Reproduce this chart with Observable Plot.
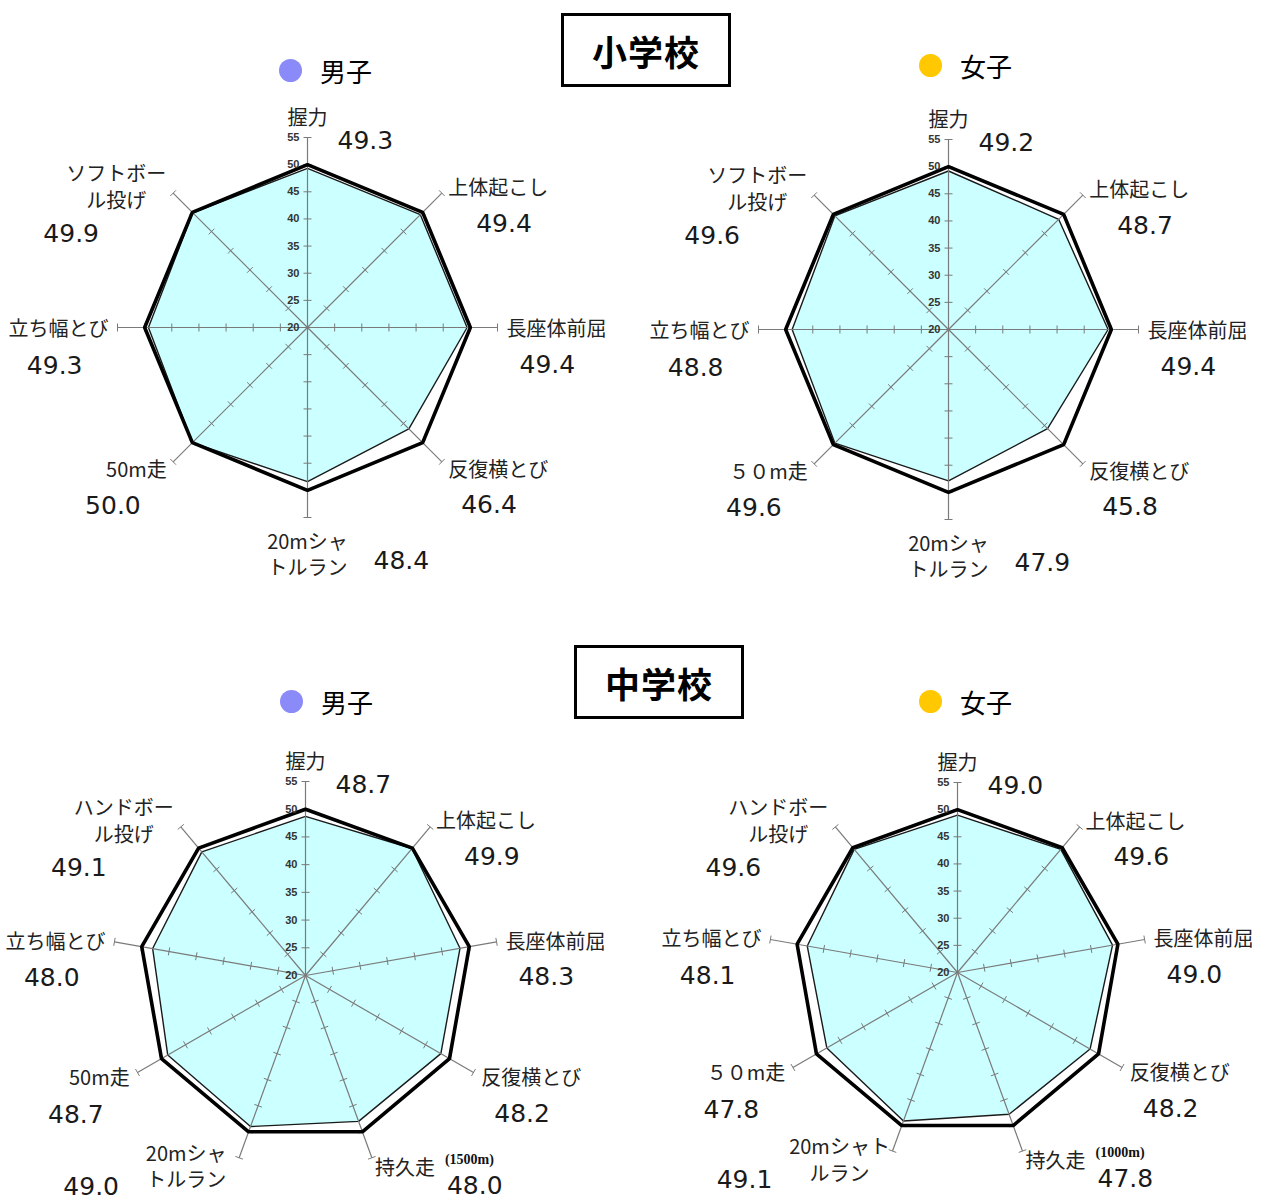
<!DOCTYPE html>
<html><head><meta charset="utf-8">
<script src="https://cdn.jsdelivr.net/npm/d3@7"></script>
<script src="https://cdn.jsdelivr.net/npm/@observablehq/plot@0.6"></script>
<style>
body{margin:0;background:#fff;font-family:"Noto Sans CJK JP",sans-serif;}
#page{position:relative;width:1263px;height:1202px;overflow:hidden;background:#fff;}
#page svg{position:absolute;left:0;top:0;}
.title{position:absolute;width:164px;height:68px;border:3px solid #000;display:flex;align-items:center;justify-content:center;font-size:35px;font-weight:bold;background:#fff;z-index:2;letter-spacing:1px;}
.legend{position:absolute;display:flex;align-items:center;font-size:26px;z-index:2;height:30px;}
.legend .sw{width:23px;height:23px;border-radius:50%;margin-right:18px;}
</style></head><body><div id="page"></div>
<script>
// ---- data ----
const elemCategories = ["握力","上体起こし","長座体前屈","反復横とび","20mシャトルラン","50m走","立ち幅とび","ソフトボール投げ"];
const juniorCategories = ["握力","上体起こし","長座体前屈","反復横とび","持久走","20mシャトルラン","50m走","立ち幅とび","ハンドボール投げ"];
const elemBoysLabels = ["握力","上体起こし","長座体前屈","反復横とび","20mシャ\nトルラン","50m走","立ち幅とび","ソフトボー\nル投げ"];
const elemGirlsLabels = ["握力","上体起こし","長座体前屈","反復横とび","20mシャ\nトルラン","５０m走","立ち幅とび","ソフトボー\nル投げ"];
const juniorBoysLabels = ["握力","上体起こし","長座体前屈","反復横とび","持久走","20mシャ\nトルラン","50m走","立ち幅とび","ハンドボー\nル投げ"];
const juniorGirlsLabels = ["握力","上体起こし","長座体前屈","反復横とび","持久走","20mシャト\nルラン","５０m走","立ち幅とび","ハンドボー\nル投げ"];
const elemBoysValues = [49.3, 49.4, 49.4, 46.4, 48.4, 50.0, 49.3, 49.9];
const elemGirlsValues = [49.2, 48.7, 49.4, 45.8, 47.9, 49.6, 48.8, 49.6];
const juniorBoysValues = [48.7, 49.9, 48.3, 48.2, 48.0, 49.0, 48.7, 48.0, 49.1];
const juniorGirlsValues = [49.0, 49.6, 49.0, 48.2, 47.8, 49.1, 47.8, 48.1, 49.6];
const nationalAverage = 50;
const scaleTicks = [20, 25, 30, 35, 40, 45, 50, 55];
const runNotes = ["(1500m)", "(1000m)"];
const sectionTitles = ["小学校", "中学校"];
const legendNames = ["男子", "女子"];
const legendColors = ["#8a8af8", "#ffc800"];

// ---- layout ----
const W = 1263, H = 1202;
const charts = [
  {id:"eb", labels: elemBoysLabels, values: elemBoysValues, note: null, cx: 307, cy: 327, R: 190},
  {id:"eg", labels: elemGirlsLabels, values: elemGirlsValues, note: null, cx: 948, cy: 329, R: 190},
  {id:"jb", labels: juniorBoysLabels, values: juniorBoysValues, note: runNotes[0], cx: 305, cy: 975, R: 194},
  {id:"jg", labels: juniorGirlsLabels, values: juniorGirlsValues, note: runNotes[1], cx: 957, cy: 972, R: 190}
];

const polyRows = [], avgRows = [], axisRows = [], tickRows = [], tickLabelRows = [];
const catRows = [], numRows = [], noteRows = [];

for (const c of charts) {
  const n = c.values.length;
  const r = d3.scaleLinear([20, 55], [0, c.R]);
  const pt = (i, v) => {
    const a = i * 2 * Math.PI / n;
    return [c.cx + r(v) * Math.sin(a), c.cy - r(v) * Math.cos(a)];
  };
  c.values.forEach((v, i) => {
    const [x, y] = pt(i, v); polyRows.push({chart: c.id, x, y});
    const [ax, ay] = pt(i, nationalAverage); avgRows.push({chart: c.id, x: ax, y: ay});
    const [ex, ey] = pt(i, 55);
    axisRows.push({x1: c.cx, y1: c.cy, x2: ex, y2: ey});
    const a = i * 2 * Math.PI / n, px = Math.cos(a), py = Math.sin(a);
    for (const t of scaleTicks.slice(1)) {
      const [tx, ty] = pt(i, t);
      tickRows.push({x1: tx - 4 * px, y1: ty - 4 * py, x2: tx + 4 * px, y2: ty + 4 * py});
    }
    // labels
    const deg = i * 360 / n, dx = Math.sin(a), dy = -Math.cos(a);
    const label = c.labels[i];
    const twoLines = label.includes("\n");
    const val = v.toFixed(1);
    const cat = (x, y, text, anchor) => catRows.push({x, y, text, anchor});
    const num = (x, y, text, anchor) => numRows.push({x, y, text, anchor});
    if (deg === 0) {
      cat(ex, ey - 21, label, "middle");
      num(c.cx + 30, ey + 3, val, "start");
    } else if (deg === 180) {
      cat(ex, ey + 36, label, "middle");
      num(ex + 66, ey + 43, val, "start");
    } else if (twoLines && deg > 180 && deg < 270) {
      const bx = ex - 53, by = ey + 8;
      cat(bx, by, label, "middle");
      num(bx - 95, by + 21, val, "middle");
    } else if (twoLines) {
      const bx = ex - 57, by = ey - 7;
      cat(bx, by, label, "middle");
      num(bx - 45, by + 48, val, "middle");
    } else if (deg < 180) {
      const lx = ex + 9 * dx, ly = ey + 9 * dy;
      cat(lx, ly, label, "start");
      if (deg > 150 && c.note) {
        noteRows.push({x: lx + 70, y: ly - 7, text: c.note});
        num(lx + 72, ly + 20, val, "start");
      } else {
        num(lx + (deg < 60 ? 28 : 13), ly + 37, val, "start");
      }
    } else {
      const lx = ex + 9 * dx, ly = ey + 9 * dy;
      cat(lx, ly, label, "end");
      num(lx - 26, ly + 38, val, "end");
    }
  });
  for (const t of scaleTicks) {
    const [, ty] = pt(0, t);
    tickLabelRows.push({x: c.cx - 8, y: ty, text: String(t)});
  }
}

const textMarks = (rows, opts) => ["start", "middle", "end"].map(anchor =>
  Plot.text(rows.filter(d => d.anchor === anchor), {x: "x", y: "y", text: "text", textAnchor: anchor, lineAnchor: "middle", ...opts}));

const chart = Plot.plot({
  width: W, height: H,
  marginTop: 0, marginRight: 0, marginBottom: 0, marginLeft: 0,
  x: {domain: [0, W], range: [0, W], axis: null},
  y: {domain: [0, H], range: [0, H], axis: null},
  style: {background: "white"},
  marks: [
    Plot.line(polyRows, {x: "x", y: "y", z: "chart", curve: "linear-closed", fill: "#ccffff", stroke: "#1a1a1a", strokeWidth: 1.4}),
    Plot.link(axisRows, {x1: "x1", y1: "y1", x2: "x2", y2: "y2", stroke: "#7a7a7a", strokeWidth: 1.2}),
    Plot.link(tickRows, {x1: "x1", y1: "y1", x2: "x2", y2: "y2", stroke: "#7a7a7a", strokeWidth: 1}),
    Plot.line(avgRows, {x: "x", y: "y", z: "chart", curve: "linear-closed", fill: "none", stroke: "#000", strokeWidth: 3.6, strokeLinejoin: "miter"}),
    Plot.text(tickLabelRows, {x: "x", y: "y", text: "text", textAnchor: "end", fontSize: 11, fontWeight: "bold", fill: "#333", fontFamily: "Liberation Sans Narrow, Liberation Sans"}),
    ...textMarks(catRows, {fontSize: 20, lineHeight: 1.32, fill: "#222", fontFamily: "Noto Sans CJK JP"}),
    ...textMarks(numRows, {fontSize: 25, fill: "#1a1a1a", fontFamily: "DejaVu Sans"}),
    Plot.text(noteRows, {x: "x", y: "y", text: "text", textAnchor: "start", fontSize: 14, fontWeight: "bold", fill: "#111", fontFamily: "Liberation Serif"})
  ]
});

const page = document.getElementById("page");
page.appendChild(chart);

// headers (titles and legends)
const headers = [
  {title: sectionTitles[0], tx: 561, ty: 13, legends: [{x: 279, y: 55}, {x: 919, y: 50}]},
  {title: sectionTitles[1], tx: 574, ty: 645, legends: [{x: 280, y: 686}, {x: 919, y: 686}]}
];
for (const h of headers) {
  const t = document.createElement("div");
  t.className = "title"; t.textContent = h.title;
  t.style.left = h.tx + "px"; t.style.top = h.ty + "px";
  page.appendChild(t);
  h.legends.forEach((l, k) => {
    const d = document.createElement("div");
    d.className = "legend";
    d.style.left = l.x + "px"; d.style.top = l.y + "px";
    const sw = document.createElement("span");
    sw.className = "sw"; sw.style.background = legendColors[k];
    const tx = document.createElement("span");
    tx.textContent = legendNames[k];
    d.appendChild(sw); d.appendChild(tx);
    page.appendChild(d);
  });
}
</script></body></html>
